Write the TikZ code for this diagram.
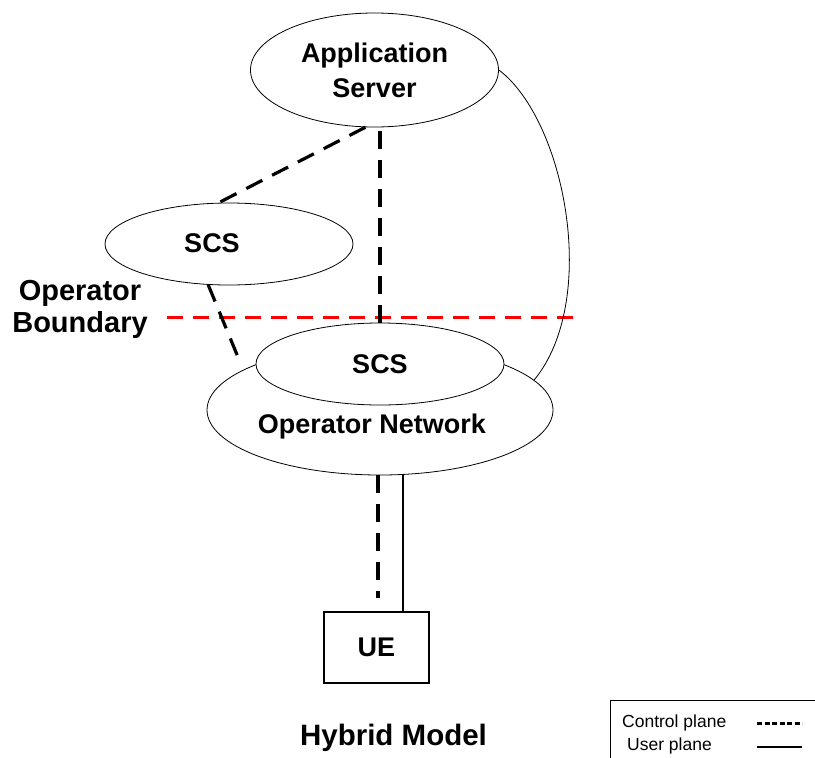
\documentclass[tikz,border=0pt]{standalone}
\usepackage{fontspec}
\setmainfont{Liberation Sans}
\usetikzlibrary{shapes.geometric,calc}
\begin{document}
\begin{tikzpicture}[x=1pt,y=-1pt,
  ell/.style={ellipse, draw, line width=0.8pt, fill=white, inner sep=0pt,
    font=\fontsize{27}{35}\selectfont\bfseries, align=center},
  lbl/.style={inner sep=0pt, font=\fontsize{27}{35}\selectfont\bfseries, align=center},
  uebox/.style={draw, line width=1.2pt, minimum width=105pt, minimum height=71pt,
    inner sep=0pt, font=\fontsize{27}{35}\selectfont\bfseries},
  ctrl/.style={line width=3.2pt, dash pattern=on 18pt off 11pt},
  user/.style={line width=1.6pt},
  boundary/.style={red, line width=3pt, dash pattern=on 16pt off 10pt},
  thinline/.style={line width=0.8pt},
  legtxt/.style={anchor=west, inner sep=0pt, font=\fontsize{17.5}{20}\selectfont},
  legctrl/.style={line width=3pt, dash pattern=on 5pt off 2.5pt},
  leguser/.style={line width=1.6pt}
]
\useasboundingbox (0,0) rectangle (815,758);

% boundary
\coordinate (b1) at (167,317);
\coordinate (b2) at (577,317);
\draw[boundary] (b1) -- (b2);

% nodes
\node[ell, minimum width=248pt, minimum height=114pt] (as) at (374.5,70) {Application\\Server};
\node[ell, minimum width=346pt, minimum height=130pt] (opnet) at (380,410) {};
\node[lbl] (opnettxt) at (372,427) {Operator Network};
\node[ell, minimum width=248pt, minimum height=82pt] (scs2) at (380,364) {SCS};
\node[ell, minimum width=248pt, minimum height=82pt] (scs1) at (229,244) {};
\node[lbl] (scs1txt) at (212,243) {SCS};
\node[uebox] (ue) at (376.5,647.5) {UE};
\node[lbl, font=\fontsize{29}{32}\selectfont\bfseries] (ob) at (80,309) {Operator\\Boundary};
\node[lbl, font=\fontsize{29.5}{32}\selectfont\bfseries] (hm) at (393.5,738) {Hybrid Model};

% connectors
\draw[ctrl] (scs2.north) -- (scs2.north |- as.south);
\draw[ctrl] (as.261) -- (scs1.104);
\coordinate (c3) at (240,362);
\draw[ctrl] (scs1.243) -- (c3);
\draw[thinline] (as.east) .. controls (565,120) and (600,300) .. (opnet.11.5);
\draw[user] ([xshift=26.5pt]ue.north) -- ([xshift=26.5pt]ue.north |- opnet.south);
\coordinate (c4) at (378,598);
\draw[ctrl] (c4 |- opnet.south) -- (c4);

% legend
\coordinate (lg) at (610,700);
\coordinate (lgr) at (815,700);
\coordinate (lgb) at (610,758);
\draw[thinline] (lgr) -- (lg) -- (lgb);
\node[legtxt] (lc) at (622,723) {Control plane};
\node[legtxt] (lu) at (627,746) {User plane};
\coordinate (l1a) at (757,723);
\coordinate (l1b) at (802,723);
\coordinate (l2a) at (757,747);
\coordinate (l2b) at (802,747);
\draw[legctrl] (l1a) -- (l1b);
\draw[leguser] (l2a) -- (l2b);
\end{tikzpicture}
\end{document}
